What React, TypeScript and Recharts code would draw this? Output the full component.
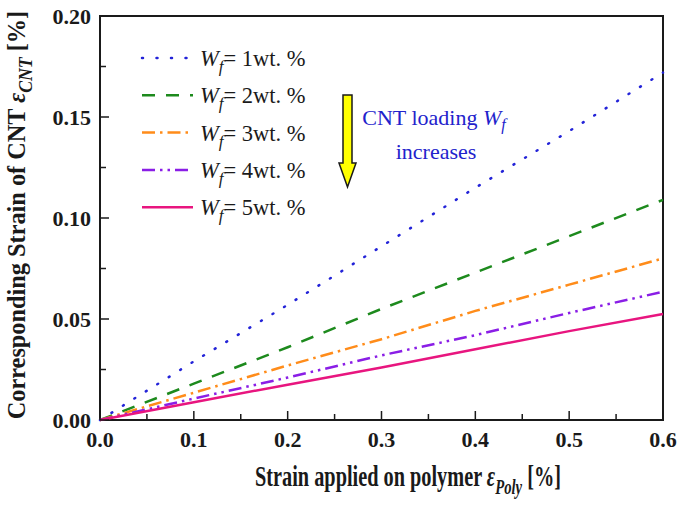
import { LineChart, Line, XAxis, YAxis, ReferenceArea } from "recharts";

// strain applied on polymer [%]
const strain = [0, 0.1, 0.2, 0.3, 0.4, 0.5, 0.6];
// corresponding strain of CNT [%], one array per CNT loading
const wf1 = [0, 0.029, 0.057, 0.086, 0.115, 0.143, 0.172];
const wf2 = [0, 0.018, 0.036, 0.055, 0.073, 0.091, 0.109];
const wf3 = [0, 0.0135, 0.027, 0.04, 0.054, 0.067, 0.08];
const wf4 = [0, 0.0106, 0.021, 0.032, 0.042, 0.053, 0.0635];
const wf5 = [0, 0.0088, 0.0175, 0.026, 0.035, 0.044, 0.0525];

const loadings = ["1", "2", "3", "4", "5"];

const xTicks = [0, 0.05, 0.1, 0.15, 0.2, 0.25, 0.3, 0.35, 0.4, 0.45, 0.5, 0.55, 0.6];
const yTicks = [0, 0.025, 0.05, 0.075, 0.1, 0.125, 0.15, 0.175, 0.2];

const series = [
  { key: "wf1", values: wf1, color: "#2323d8", dash: "1 12.5", cap: "round" as const },
  { key: "wf2", values: wf2, color: "#1d8a1d", dash: "13 11", cap: "butt" as const },
  { key: "wf3", values: wf3, color: "#ff8c1a", dash: "13 5 2.5 5", cap: "butt" as const },
  { key: "wf4", values: wf4, color: "#8a1ee6", dash: "13 5 2.5 5 2.5 5", cap: "butt" as const },
  { key: "wf5", values: wf5, color: "#e8157f", dash: undefined, cap: "butt" as const },
];

const data = strain.map((x, i) => {
  const row: Record<string, number> = { x };
  series.forEach((s) => (row[s.key] = s.values[i]));
  return row;
});

const serif = "'Liberation Serif', 'Times New Roman', serif";
const ink = "#1a1a1a";

function YTick(props: any) {
  const { x, y, payload } = props;
  const v = payload.value as number;
  const major = Math.abs(v * 20 - Math.round(v * 20)) < 1e-6;
  return (
    <g>
      <line x1={x} x2={x + (major ? 9 : 6)} y1={y} y2={y} stroke={ink} strokeWidth={1.5} />
      {major && (
        <text x={x - 9} y={y} dy={8} textAnchor="end" fontSize={22} fontWeight="bold" fontFamily={serif} fill={ink}>
          {v.toFixed(2)}
        </text>
      )}
    </g>
  );
}

function XTick(props: any) {
  const { x, y, payload } = props;
  const v = payload.value as number;
  const major = Math.abs(v * 10 - Math.round(v * 10)) < 1e-6;
  return (
    <g>
      <line x1={x} x2={x} y1={y} y2={y - (major ? 9 : 6)} stroke={ink} strokeWidth={1.5} />
      {major && (
        <text x={x} y={y} dy={27} textAnchor="middle" fontSize={22} fontWeight="bold" fontFamily={serif} fill={ink}>
          {v.toFixed(1)}
        </text>
      )}
    </g>
  );
}

export default function App() {
  return (
    <div style={{ position: "absolute", left: 0, top: 0, width: 685, height: 513, background: "#fff" }}>
      <LineChart width={685} height={513} data={data} margin={{ top: 16, right: 22, bottom: 33, left: 8 }}>
        <XAxis
          dataKey="x"
          type="number"
          domain={[0, 0.6]}
          ticks={xTicks}
          interval={0}
          height={60}
          axisLine={false}
          tickLine={false}
          tickSize={0}
          tickMargin={0}
          tick={XTick}
        />
        <YAxis
          type="number"
          domain={[0, 0.2]}
          ticks={yTicks}
          interval={0}
          width={92}
          axisLine={false}
          tickLine={false}
          tickSize={0}
          tickMargin={0}
          tick={YTick}
        />
        <ReferenceArea x1={0} x2={0.6} y1={0} y2={0.2} fill="none" stroke={ink} strokeWidth={2} />
        {series.map((s) => (
          <Line
            key={s.key}
            dataKey={s.key}
            type="linear"
            stroke={s.color}
            strokeWidth={2.5}
            strokeDasharray={s.dash}
            strokeLinecap={s.cap}
            dot={false}
            activeDot={false}
            isAnimationActive={false}
          />
        ))}
      </LineChart>

      <svg width={685} height={513} style={{ position: "absolute", left: 0, top: 0, pointerEvents: "none" }}>
        {/* legend */}
        {series.map((s, i) => {
          const y = 58 + i * 37.3;
          return (
            <g key={s.key}>
              <line
                x1={142}
                x2={193}
                y1={y}
                y2={y}
                stroke={s.color}
                strokeWidth={2.5}
                strokeDasharray={s.key === "wf1" ? "1 13.5" : s.dash}
                strokeLinecap={s.cap}
              />
              <text x={200} y={y + 8} fontSize={22.5} fontFamily={serif} fill={ink}>
                <tspan fontStyle="italic">W</tspan>
                <tspan fontStyle="italic" fontSize={17} dy={6}>f</tspan>
                <tspan dy={-6}>= {loadings[i]}wt. %</tspan>
              </text>
            </g>
          );
        })}

        {/* arrow */}
        <polygon
          points="343,95 352,95 352,163 356,163 347.5,187 339,163 343,163"
          fill="#ffff00"
          stroke={ink}
          strokeWidth={1.5}
        />
        <text x={434} y={125} textAnchor="middle" fontSize={22} fontFamily={serif} fill="#2222cc">
          CNT loading <tspan fontStyle="italic">W</tspan>
          <tspan fontStyle="italic" fontSize={16} dy={5}>f</tspan>
        </text>
        <text x={436} y={159} textAnchor="middle" fontSize={22} fontFamily={serif} fill="#2222cc">
          increases
        </text>

        {/* axis titles */}
        <text
          x={0}
          y={0}
          transform="translate(408,486) scale(0.70,1)"
          textAnchor="middle"
          fontSize={29}
          fontWeight="bold"
          fontFamily={serif}
          fill={ink}
        >
          Strain applied on polymer <tspan fontStyle="italic">ε</tspan>
          <tspan fontStyle="italic" fontSize={21} dy={8}>Poly</tspan>
          <tspan dy={-8}> [%]</tspan>
        </text>
        <text
          x={0}
          y={0}
          transform="translate(25,215) rotate(-90) scale(0.935,1)"
          textAnchor="middle"
          fontSize={26}
          fontWeight="bold"
          fontFamily={serif}
          fill={ink}
        >
          Corresponding Strain of CNT <tspan fontStyle="italic">ε</tspan>
          <tspan fontStyle="italic" fontSize={19} dy={7}>CNT</tspan>
          <tspan dy={-7}> [%]</tspan>
        </text>
      </svg>
    </div>
  );
}
